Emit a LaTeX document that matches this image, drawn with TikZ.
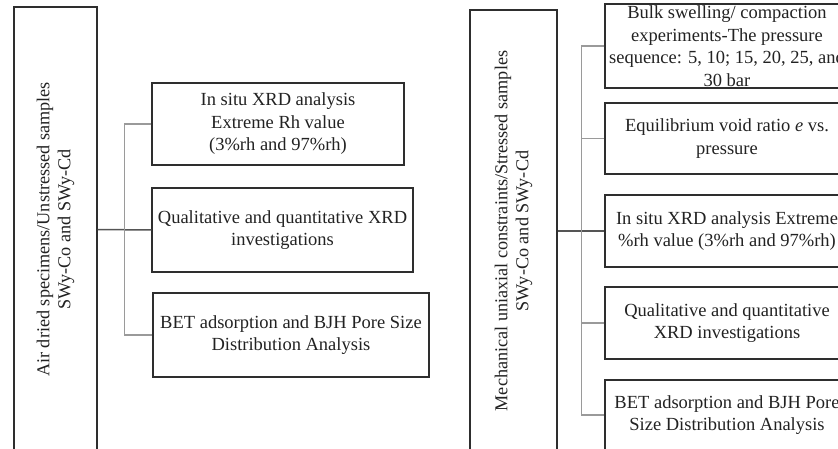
\documentclass[tikz,border=0pt]{standalone}
\usepackage{fontspec}
\setmainfont{Liberation Serif}
\definecolor{boxline}{HTML}{2E2E2E}
\definecolor{treeline}{HTML}{9A9A9A}
\definecolor{mainline}{HTML}{555555}
\definecolor{txt}{HTML}{222222}
\begin{document}
\begin{tikzpicture}[x=1pt,y=-1pt,
  every node/.style={font=\fontsize{18.5}{22.5}\selectfont, text=txt, inner sep=0pt},
  box/.style={draw=boxline, line width=1.2pt, align=center},
  tallbox/.style={draw=boxline, line width=1.2pt, align=center, rotate=90, font=\fontsize{18.2}{21}\selectfont},
  tree/.style={draw=treeline, line width=1.2pt},
  mainln/.style={draw=mainline, line width=1.5pt}]
\useasboundingbox (0,0) rectangle (838,449);
\clip (0,0) rectangle (838,449);
% left panel
\node[tallbox, minimum width=445pt, minimum height=83pt] (air) at (55.5,229.5)
  {Air dried specimens/Unstressed samples\\SWy-Co and SWy-Cd};
\node[box, minimum width=252pt, minimum height=82pt] (l1) at (278,124)
  {In situ XRD analysis\\Extreme Rh value\\(3\%rh and 97\%rh)};
\node[box, minimum width=261pt, minimum height=84pt] (l2) at (282.5,230)
  {Qualitative and quantitative XRD\\investigations};
\node[box, minimum width=276pt, minimum height=84pt] (l3) at (291,335)
  {BET adsorption and BJH Pore Size\\Distribution Analysis};
\draw[mainln] (air.south) -- (l2.west);
\draw[tree] (l1.west) -- ++(-27,0) |- (l3.west);
% right panel
\node[tallbox, minimum width=442pt, minimum height=87pt] (mech) at (513.5,231)
  {Mechanical uniaxial constraints/Stressed samples\\SWy-Co and SWy-Cd};
\node[box, minimum width=244pt, minimum height=84pt] (r1) at (727,46)
  {Bulk swelling/ compaction\\experiments-The pressure\\sequence: 5, 10; 15, 20, 25, and\\30 bar};
\node[box, minimum width=244pt, minimum height=71pt] (r2) at (727,138.5)
  {Equilibrium void ratio \textit{e} vs.\\pressure};
\node[box, minimum width=244pt, minimum height=72pt] (r3) at (727,231)
  {In situ XRD analysis Extreme\\\%rh value (3\%rh and 97\%rh)};
\node[box, minimum width=244pt, minimum height=72pt] (r4) at (727,323)
  {Qualitative and quantitative\\XRD investigations};
\node[box, minimum width=244pt, minimum height=70pt] (r5) at (727,415)
  {BET adsorption and BJH Pore\\Size Distribution Analysis};
\draw[mainln] (mech.south) -- (r3.west);
\draw[tree] (r1.west) -- ++(-23,0) |- (r5.west);
\draw[tree] (r2.west) -- ++(-23,0);
\draw[tree] (r4.west) -- ++(-23,0);
\end{tikzpicture}
\end{document}
